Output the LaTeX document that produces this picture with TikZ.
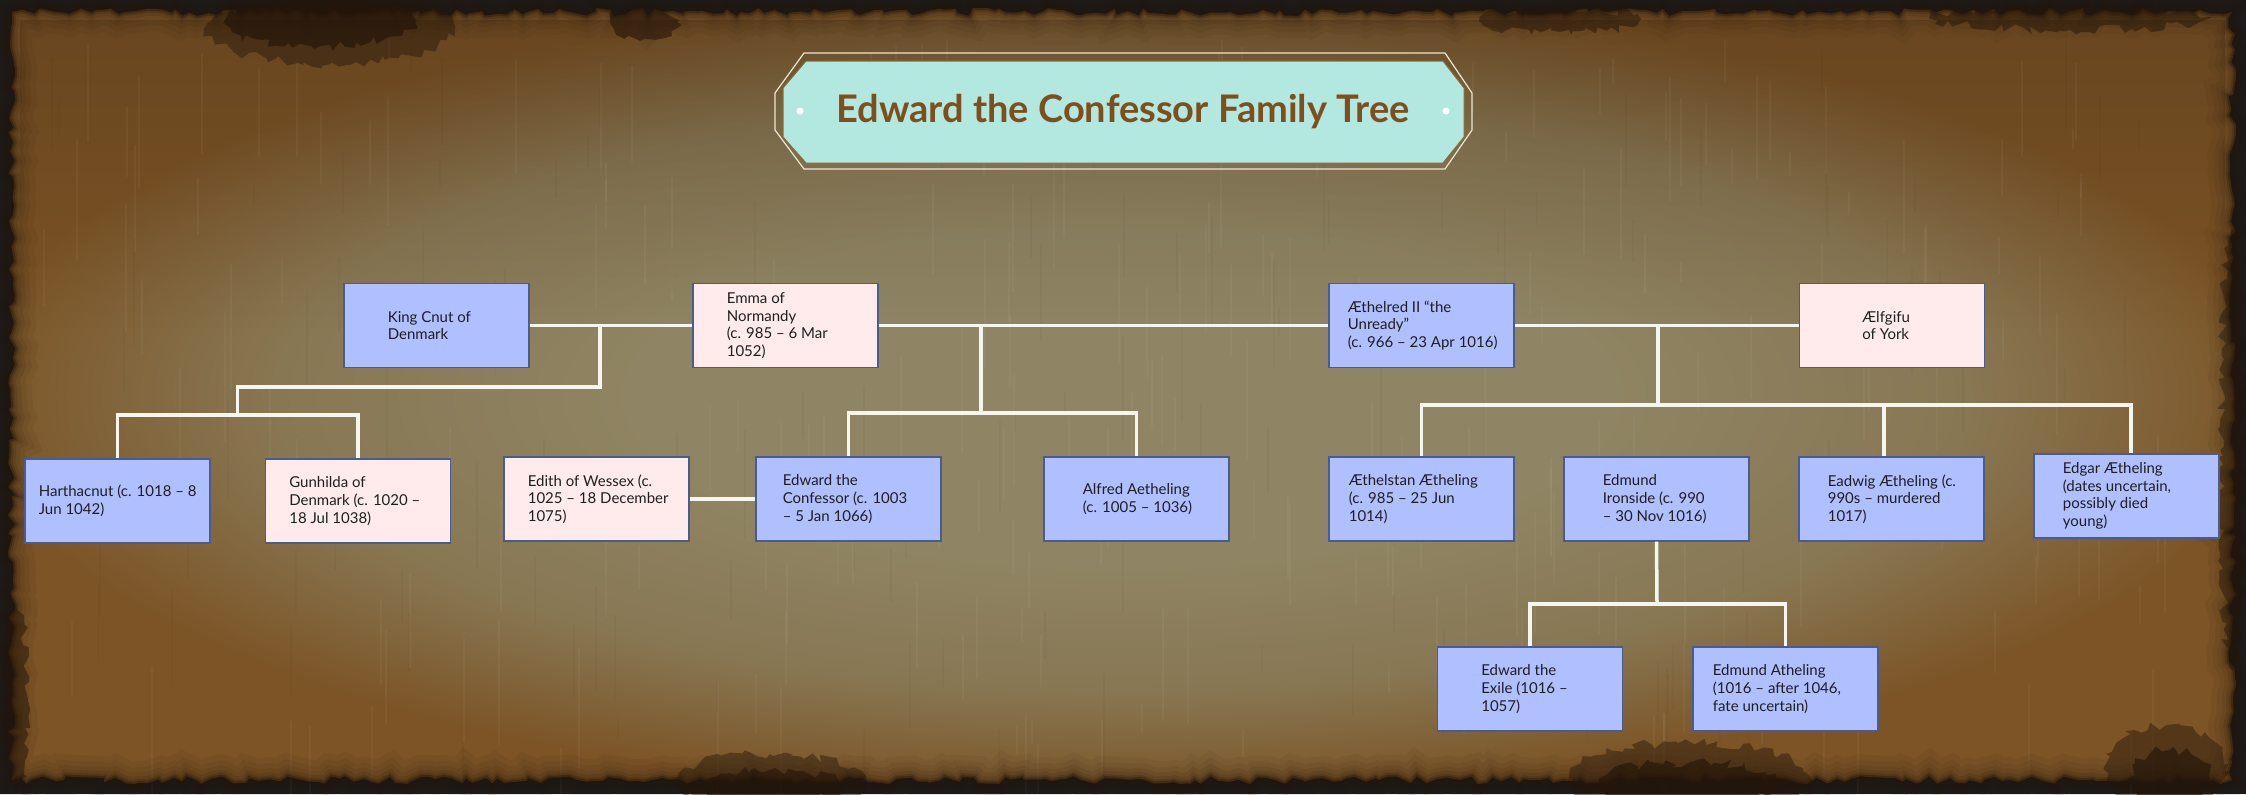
\documentclass[tikz,border=0pt]{standalone}
\usepackage{fontspec}
\setmainfont{Lato}
\usetikzlibrary{decorations.pathmorphing,fadings}
\definecolor{bluebox}{HTML}{B0BFFF}
\definecolor{pinkbox}{HTML}{FFEBEB}
\definecolor{boxline}{HTML}{4A5C8C}
\definecolor{mint}{HTML}{B3E8E0}
\definecolor{titlebrown}{HTML}{7E4F1E}
\definecolor{titleedge}{HTML}{8A6A3A}
\definecolor{cream}{HTML}{EDE6CF}
\definecolor{frame}{HTML}{1E1C1B}
\definecolor{parchin}{HTML}{8F8463}
\definecolor{parchmid}{HTML}{887753}
\definecolor{parchout}{HTML}{7C5426}
\definecolor{burn}{HTML}{24150A}
\definecolor{conn}{HTML}{F7F5EF}
\pgfdeclareradialshading{parch}{\pgfpoint{0bp}{0bp}}{color(0bp)=(parchin); color(11bp)=(parchin); color(19bp)=(parchmid); color(26bp)=(parchout); color(50bp)=(parchout)}
\begin{document}
\begin{tikzpicture}[x=0.5pt,y=-0.5pt,
  person/.style={draw=boxline, line width=0.6pt, minimum width=92.5pt, minimum height=42pt, inner sep=0pt},
  man/.style={person, fill=bluebox},
  woman/.style={person, fill=pinkbox},
  txt/.style={anchor=west, align=left, inner sep=0pt, font=\fontsize{7.5}{8.8}\selectfont, text=black!88},
  link/.style={draw=conn, line width=1.75pt},
  jag/.style={decorate, decoration={random steps, segment length=4pt, amplitude=2pt}},
  blob/.style={fill=burn, decorate, decoration={random steps, segment length=3pt, amplitude=2.5pt}}
]
\useasboundingbox (0,0) rectangle (2246,794);
\fill[frame] (0,0) rectangle (2246,794);
% parchment
\pgfmathsetseed{11}
\shade[shading=parch, jag] (12,12) rectangle (2232,780);
% darker upper area
\fill[burn, opacity=.22, path fading=south] (20,20) rectangle (2226,330);
% streak texture
\pgfmathsetseed{3}
\foreach \i in {1,...,220} {
  \pgfmathsetmacro\xx{40+2160*rnd}
  \pgfmathsetmacro\yy{30+720*rnd}
  \pgfmathsetmacro\ll{20+110*rnd}
  \draw[white, opacity=.04, line width=1pt] (\xx,\yy) -- (\xx,{\yy+\ll});
}
\foreach \i in {1,...,120} {
  \pgfmathsetmacro\xx{40+2160*rnd}
  \pgfmathsetmacro\yy{30+720*rnd}
  \pgfmathsetmacro\ll{20+90*rnd}
  \draw[burn, opacity=.03, line width=1pt] (\xx,\yy) -- (\xx,{\yy+\ll});
}
% burnt edge
\foreach \w/\o in {22/.06,16/.07,11/.09,7/.12,4/.2,2/.4} {
  \pgfmathsetseed{11}
  \draw[burn, line width=\w pt, opacity=\o, jag] (12,12) rectangle (2232,780);
}
% burnt patches
\pgfmathsetseed{5}
\fill[blob, opacity=.45] (330,28) ellipse [x radius=125, y radius=36];
\fill[blob, opacity=.7] (320,22) ellipse [x radius=95, y radius=24];
\fill[blob, opacity=.6] (645,22) ellipse [x radius=32, y radius=16];
\fill[blob, opacity=.5] (1560,20) ellipse [x radius=80, y radius=12];
\fill[blob, opacity=.5] (2070,18) ellipse [x radius=140, y radius=12];
\fill[blob, opacity=.45] (770,782) ellipse [x radius=95, y radius=28];
\fill[blob, opacity=.6] (770,786) ellipse [x radius=70, y radius=16];
\fill[blob, opacity=.45] (1690,778) ellipse [x radius=120, y radius=36];
\fill[blob, opacity=.65] (1690,784) ellipse [x radius=90, y radius=22];
\fill[blob, opacity=.45] (2165,770) ellipse [x radius=60, y radius=44];
\fill[blob, opacity=.65] (2170,778) ellipse [x radius=40, y radius=28];
\fill[blob, opacity=.5] (16,700) ellipse [x radius=12, y radius=90];
\fill[blob, opacity=.45] (2232,450) ellipse [x radius=12, y radius=220];
% title plaque
\draw[cream, line width=0.6pt] (804,53) -- (1445,53) -- (1472,93) -- (1472,130) -- (1445,169) -- (804,169) -- (775,130) -- (775,93) -- cycle;
\filldraw[fill=mint, draw=titleedge, line width=0.5pt] (806,61) -- (1443,61) -- (1464,88) -- (1464,137) -- (1443,163) -- (806,163) -- (783,137) -- (783,88) -- cycle;
\fill[white] (800,111) circle[radius=3.5];
\fill[white] (1446,111) circle[radius=3.5];
\node[font=\fontsize{19}{22}\selectfont\bfseries, text=titlebrown] (title) at (1123,112) {Edward the Confessor Family Tree};
% people
\node[man, label={[txt,xshift=22pt]west:{King Cnut of\\Denmark}}] (cnut) at (436.5,325.5) {};
\node[woman, label={[txt,xshift=17pt]west:{Emma of\\Normandy\\(c. 985 – 6 Mar\\1052)}}] (emma) at (785.5,325.5) {};
\node[man, label={[txt,xshift=9.5pt]west:{Æthelred II “the\\Unready”\\(c. 966 – 23 Apr 1016)}}] (aethelred) at (1421.5,325.5) {};
\node[woman, label={[txt,xshift=31.5pt]west:{Ælfgifu\\of York}}] (aelfgifu) at (1892,325.5) {};
\node[man, label={[txt,xshift=7pt]west:{Harthacnut (c. 1018 – 8\\Jun 1042)}}] (harthacnut) at (117.5,501) {};
\node[woman, label={[txt,xshift=12pt]west:{Gunhilda of\\Denmark (c. 1020 –\\18 Jul 1038)}}] (gunhilda) at (358,501) {};
\node[woman, label={[txt,xshift=12pt]west:{Edith of Wessex (c.\\1025 – 18 December\\1075)}}] (edith) at (596.5,499) {};
\node[man, label={[txt,xshift=13.5pt]west:{Edward the\\Confessor (c. 1003\\– 5 Jan 1066)}}] (edward) at (848.5,499) {};
\node[man, label={[txt,xshift=19.5pt]west:{Alfred Aetheling\\(c. 1005 – 1036)}}] (alfred) at (1136.5,499) {};
\node[man, label={[txt,xshift=10pt]west:{Æthelstan Ætheling\\(c. 985 – 25 Jun\\1014)}}] (aethelstan) at (1421.5,499) {};
\node[man, label={[txt,xshift=19.5pt]west:{Edmund\\Ironside (c. 990\\– 30 Nov 1016)}}] (ironside) at (1656.5,499) {};
\node[man, label={[txt,xshift=14.5pt]west:{Eadwig Ætheling (c.\\990s – murdered\\1017)}}] (eadwig) at (1891.5,499) {};
\node[man, label={[txt,xshift=14.5pt]west:{Edgar Ætheling\\(dates uncertain,\\possibly died\\young)}}] (edgar) at (2126.5,496) {};
\node[man, label={[txt,xshift=22pt]west:{Edward the\\Exile (1016 –\\1057)}}] (exile) at (1530,689) {};
\node[man, label={[txt,xshift=10pt]west:{Edmund Atheling\\(1016 – after 1046,\\fate uncertain)}}] (atheling) at (1785.5,689) {};
% junction points
\coordinate (m1) at (600,325.5);
\coordinate (e1) at (237.5,387);
\coordinate (b1) at (237.5,415);
\coordinate (m2) at (981,325.5);
\coordinate (b2) at (981,413);
\coordinate (m3) at (1658,325.5);
\coordinate (b3) at (1658,405);
\coordinate (d3e) at (1884,405);
\coordinate (d3g) at (2131,405);
\coordinate (b4) at (1657,604);
% connectors
\draw[link] (cnut.east) -- (emma.west);
\draw[link] (m1) |- (e1) -- (b1);
\draw[link] (harthacnut.north) |- (b1) -| (gunhilda.north);
\draw[link] (emma.east) -- (aethelred.west);
\draw[link] (m2) -- (b2);
\draw[link] (edward.north) |- (b2) -| (alfred.north);
\draw[link] (edith.east) -- (edward.west);
\draw[link] (aethelred.east) -- (aelfgifu.west);
\draw[link] (m3) -- (b3);
\draw[link] (aethelstan.north) |- (d3g) -- (d3g |- edgar.north);
\draw[link] (d3e) -- (d3e |- eadwig.north);
\draw[link] (ironside.south) -- (b4);
\draw[link] (exile.north) |- (b4) -| (atheling.north);
\end{tikzpicture}
\end{document}
